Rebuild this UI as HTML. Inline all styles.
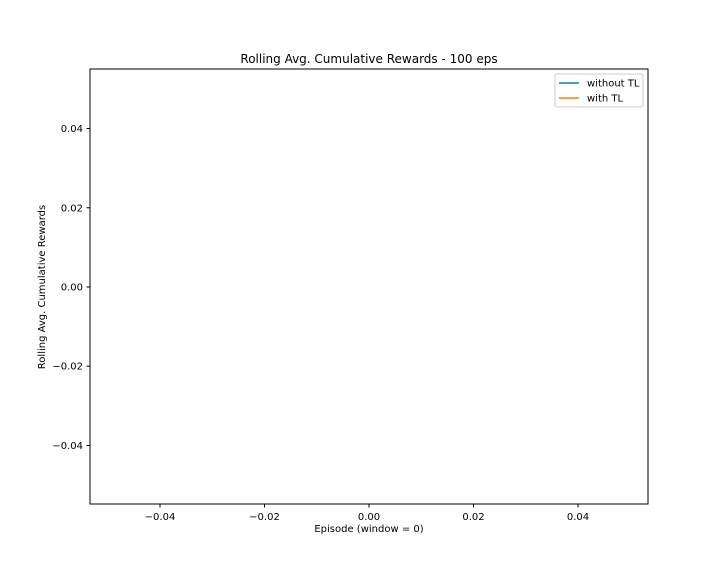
<!DOCTYPE html>
<html><head><meta charset="utf-8"><style>
body{margin:0;background:#fff;font-family:"Liberation Sans","DejaVu Sans",sans-serif;}
svg text{font-family:"DejaVu Sans","Liberation Sans",sans-serif;}
</style></head><body>
<svg id="chart" width="720" height="576" xmlns="http://www.w3.org/2000/svg">
<rect width="720" height="576" fill="#fff"/>
<text x="369" y="63" font-size="12" text-anchor="middle">Rolling Avg. Cumulative Rewards - 100 eps</text>
<g id="xt"></g>
<g id="yt"></g>
<g id="series"></g>
<rect x="90" y="69" width="558" height="435" fill="none" stroke="#000" stroke-width="1"/>
<text x="369" y="532" font-size="10" text-anchor="middle">Episode (window = 0)</text>
<text transform="translate(45,287) rotate(-90)" font-size="10" text-anchor="middle">Rolling Avg. Cumulative Rewards</text>
<g>
<rect x="555" y="74" width="88" height="33" rx="2" fill="#fff" stroke="#ccc"/>
<line x1="559" y1="83" x2="579" y2="83" stroke="#1f77b4" stroke-width="1.5"/>
<text x="587" y="86.5" font-size="10">without TL</text>
<line x1="559" y1="98" x2="579" y2="98" stroke="#ff7f0e" stroke-width="1.5"/>
<text x="587" y="101.5" font-size="10">with TL</text>
</g>
</svg>
<script>
const xTicks=[-0.04,-0.02,0.00,0.02,0.04];
const yTicks=[-0.04,-0.02,0.00,0.02,0.04];
const episodes=[];
const withoutTL=[];
const withTL=[];
const NS="http://www.w3.org/2000/svg";
const xs=v=>369+v*5225;
const ys=v=>287-v*3962;
const xt=document.getElementById('xt'),yt=document.getElementById('yt');
function mk(t,a){const e=document.createElementNS(NS,t);for(const k in a)e.setAttribute(k,a[k]);return e;}
xTicks.forEach(v=>{
 const l=mk('line',{x1:xs(v),x2:xs(v),y1:504,y2:507.5,stroke:'#000'});
 
 
 xt.appendChild(l);
 const t=mk('text',{x:xs(v),y:520,'font-size':10,'text-anchor':'middle'});
 
 
 t.textContent=(v<0?'\u2212':'')+Math.abs(v).toFixed(2);xt.appendChild(t);
});
yTicks.forEach(v=>{
 const l=mk('line',{x1:86.5,x2:90,y1:ys(v),y2:ys(v),stroke:'#000'});
 
 
 yt.appendChild(l);
 const t=mk('text',{x:83,y:ys(v)+3.5,'font-size':10,'text-anchor':'end'});
 
 
 t.textContent=(v<0?'\u2212':'')+Math.abs(v).toFixed(2);yt.appendChild(t);
});
const sg=document.getElementById('series');
[[withoutTL,'#1f77b4','line-without-tl'],[withTL,'#ff7f0e','line-with-tl']].forEach(([d,c,n])=>{
 if(!d.length)return;
 const p=mk('polyline',{points:d.map((v,i)=>xs(episodes[i])+','+ys(v)).join(' '),fill:'none',stroke:c,'stroke-width':1.5});
 
 
 sg.appendChild(p);
});
</script>
</body></html>
